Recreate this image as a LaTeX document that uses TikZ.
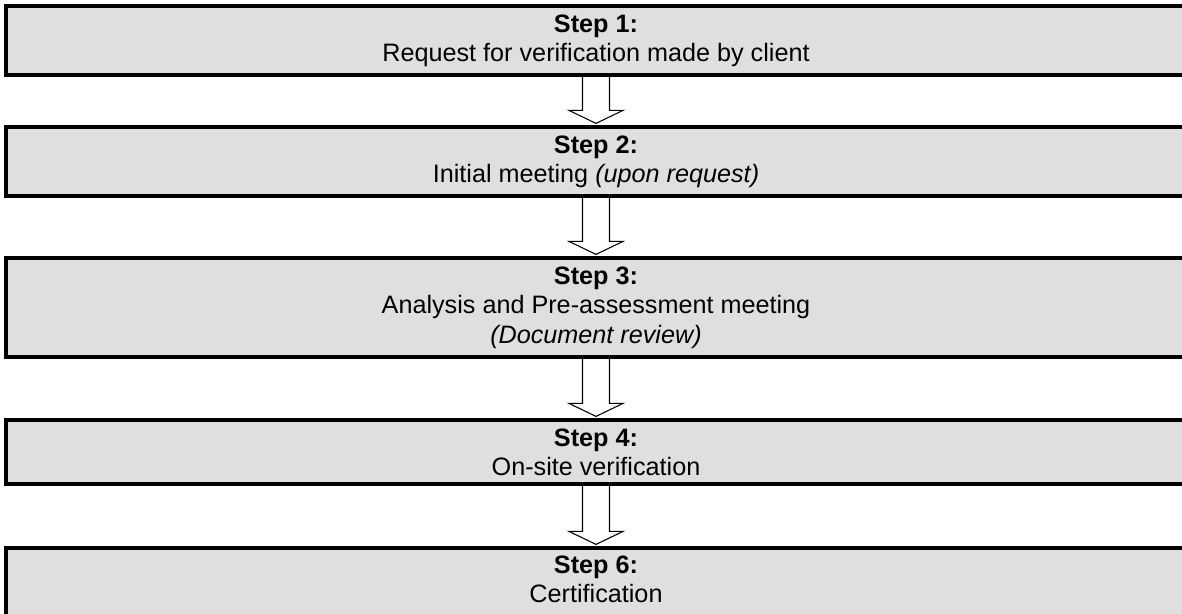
\documentclass[tikz,border=0pt]{standalone}
\usepackage{fontspec}
\setmainfont{Liberation Sans}
\definecolor{boxfill}{RGB}{223,223,223}
\def\px{0.75pt}
\tikzset{
  stepbox/.style={draw=black, fill=boxfill, line width=2.4pt, rectangle, inner sep=0pt, minimum width=1180*0.75pt},
  txt/.style={inner sep=0pt, anchor=base, font=\fontsize{18.9pt}{22pt}\selectfont},
  blockarr/.style={draw=black, line width=0.8pt, line join=miter}
}
\newcommand{\blockarrow}[2]{%
  \draw[blockarr] ([xshift=-13.5*\px]#1.south) -- ([xshift=-13.5*\px,yshift=15*\px]#2.north)
    -- ([xshift=-27*\px,yshift=15*\px]#2.north) -- ([yshift=2*\px]#2.north)
    -- ([xshift=27*\px,yshift=15*\px]#2.north) -- ([xshift=13.5*\px,yshift=15*\px]#2.north)
    -- ([xshift=13.5*\px]#1.south);}
\begin{document}
\begin{tikzpicture}[x=0.75pt,y=-0.75pt]
\useasboundingbox (0,0) rectangle (1182,614);
\clip (0,0) rectangle (1182,614);
\node[stepbox, minimum height=69*0.75pt] (b1) at (596,40.5) {};
\node[stepbox, minimum height=69*0.75pt] (b2) at (596,161.5) {};
\node[stepbox, minimum height=99*0.75pt] (b3) at (596,307.5) {};
\node[stepbox, minimum height=64*0.75pt] (b4) at (596,452) {};
\node[stepbox, minimum height=72*0.75pt] (b5) at (596,584) {};
\blockarrow{b1}{b2}
\blockarrow{b2}{b3}
\blockarrow{b3}{b4}
\blockarrow{b4}{b5}
\node[txt] (t1a) at ([yshift=-28*\px]b1.north) {\textbf{Step 1:}};
\node[txt] (t1b) at ([yshift=-57*\px]b1.north) {Request for verification made by client};
\node[txt] (t2a) at ([yshift=-28*\px]b2.north) {\textbf{Step 2:}};
\node[txt] (t2b) at ([yshift=-57*\px]b2.north) {Initial meeting \textit{(upon request)}};
\node[txt] (t3a) at ([yshift=-28*\px]b3.north) {\textbf{Step 3:}};
\node[txt] (t3b) at ([yshift=-57.5*\px]b3.north) {Analysis and Pre-assessment meeting};
\node[txt] (t3c) at ([yshift=-87*\px]b3.north) {\textit{(Document review)}};
\node[txt] (t4a) at ([yshift=-28*\px]b4.north) {\textbf{Step 4:}};
\node[txt] (t4b) at ([yshift=-57*\px]b4.north) {On-site verification};
\node[txt] (t5a) at ([yshift=-27*\px]b5.north) {\textbf{Step 6:}};
\node[txt] (t5b) at ([yshift=-56*\px]b5.north) {Certification};
\end{tikzpicture}
\end{document}
